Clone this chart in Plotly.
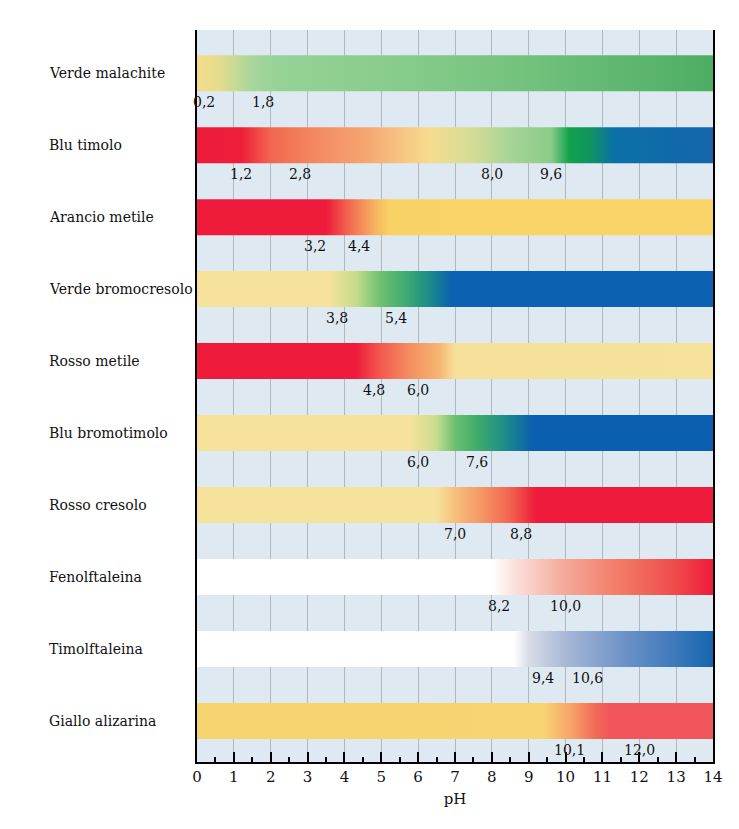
import plotly.graph_objects as go

indicators = ["Verde malachite", "Blu timolo", "Arancio metile", "Verde bromocresolo",
              "Rosso metile", "Blu bromotimolo", "Rosso cresolo", "Fenolftaleina",
              "Timolftaleina", "Giallo alizarina"]

# transition ranges (value, label)
range_values = [[0.2, 1.8], [1.2, 2.8, 8.0, 9.6], [3.2, 4.4], [3.8, 5.4], [4.8, 6.0],
                [6.0, 7.6], [7.0, 8.8], [8.2, 10.0], [9.4, 10.6], [10.1, 12.0]]
range_labels = [["0,2", "1,8"], ["1,2", "2,8", "8,0", "9,6"], ["3,2", "4,4"], ["3,8", "5,4"],
                ["4,8", "6,0"], ["6,0", "7,6"], ["7,0", "8,8"], ["8,2", "10,0"],
                ["9,4", "10,6"], ["10,1", "12,0"]]

# colour stops along pH (pH, colour)
color_stops = [
    [(0, "#f3dc8c"), (0.6, "#e4dc8e"), (1.5, "#a8d69c"), (2.2, "#96d296"), (5, "#8acd8c"),
     (9, "#72c27c"), (14, "#4cae62")],
    [(0, "#ee1b3b"), (1.2, "#ee1e3a"), (2.0, "#f26650"), (3.0, "#f4845e"), (4.5, "#f6a470"),
     (6.3, "#f6dc8e"), (7.5, "#d4dc96"), (8.5, "#a6d496"), (9.6, "#8ccb8a"), (10.1, "#12a24c"),
     (10.7, "#0f9262"), (11.3, "#0b70a8"), (14, "#1465ac")],
    [(0, "#ee1b3b"), (3.5, "#ee1b3b"), (4.2, "#f37052"), (4.8, "#f6b060"), (5.2, "#f8d264"),
     (14, "#f8d468")],
    [(0, "#f6e29a"), (3.6, "#f6e29a"), (4.3, "#c6dc8a"), (5.0, "#6cc070"), (5.6, "#42ae70"),
     (6.3, "#1c8c88"), (6.9, "#0a62b0"), (14, "#0a62b0")],
    [(0, "#ee1b3b"), (4.3, "#ee1b3b"), (5.0, "#f45a50"), (5.8, "#f49060"), (6.6, "#f6b874"),
     (7.0, "#f6e09a"), (14, "#f6e29a")],
    [(0, "#f6e29a"), (5.8, "#f6e29a"), (6.5, "#c8dc8e"), (7.0, "#6cc070"), (7.6, "#40ac6a"),
     (8.4, "#1b8a8c"), (9.1, "#0a5fae"), (14, "#0a5fae")],
    [(0, "#f6e29a"), (6.5, "#f6e29a"), (7.0, "#f6c07c"), (7.8, "#f49262"), (8.5, "#f2644e"),
     (9.2, "#ee1b3b"), (14, "#ee1b3b")],
    [(0, "#ffffff"), (8.0, "#ffffff"), (8.6, "#fbe2dc"), (10.0, "#f4a898"), (11.5, "#f27a66"),
     (13.0, "#f04a4a"), (14, "#ee1b3b")],
    [(0, "#ffffff"), (8.6, "#ffffff"), (9.0, "#d8dce6"), (10.0, "#a8b8d6"), (11.5, "#7094c8"),
     (13.0, "#3c78bc"), (14, "#1466ae")],
    [(0, "#f8d470"), (9.4, "#f8d472"), (10.2, "#f6a068"), (10.8, "#f26a58"), (11.2, "#f2565a"),
     (14, "#f2565a")],
]

ph_min, ph_max = 0, 14
tick_values = list(range(0, 15))
tick_labels = [str(v) for v in tick_values]

serif = "DejaVu Serif"
half = 0.25

fig = go.Figure()
annotations = []
for i, name in enumerate(indicators):
    cs = [[p / (ph_max - ph_min), c] for p, c in color_stops[i]]
    fig.add_trace(go.Scatter(
        x=[ph_min, ph_max, ph_max, ph_min, ph_min],
        y=[i - half, i - half, i + half, i + half, i - half],
        mode="lines", line=dict(width=0), fill="toself",
        fillgradient=dict(type="horizontal", colorscale=cs),
        hoverinfo="skip", showlegend=False))
    annotations.append(dict(
        x=-0.29, xref="paper", y=i, yref="y", text=name,
        showarrow=False, xanchor="left", yanchor="middle",
        font=dict(family=serif, size=14, color="#111")))
    for v, lab in zip(range_values[i], range_labels[i]):
        annotations.append(dict(
            x=v, y=i + 0.4, xref="x", yref="y", text=lab,
            showarrow=False, xanchor="center", yanchor="middle",
            font=dict(family=serif, size=14, color="#111")))

fig.update_layout(
    width=739, height=829,
    margin=dict(l=197, r=26, t=30, b=67),
    font=dict(family=serif, size=14, color="#111"),
    paper_bgcolor="white", plot_bgcolor="#dfe9f2",
    annotations=annotations,
    showlegend=False,
    xaxis=dict(range=[ph_min, ph_max], tickvals=tick_values, ticktext=tick_labels,
               ticks="inside", ticklen=10, tickwidth=2, tickcolor="black",
               showline=True, linecolor="black", linewidth=2,
               showgrid=True, gridcolor="#b0b8c0", gridwidth=1,
               minor=dict(dtick=0.5, ticks="inside", ticklen=5, tickwidth=2,
                          tickcolor="black", showgrid=False),
               tickfont=dict(family=serif, size=15, color="#111"),
               title=dict(text="pH", font=dict(family=serif, size=15, color="#111"), standoff=8),
               zeroline=False, fixedrange=True),
    yaxis=dict(range=[9.57, -0.6], showticklabels=False, ticks="", showgrid=False,
               zeroline=False, showline=True, mirror=True, linecolor="black", linewidth=2,
               fixedrange=True),
)

fig.write_html("out.html")
